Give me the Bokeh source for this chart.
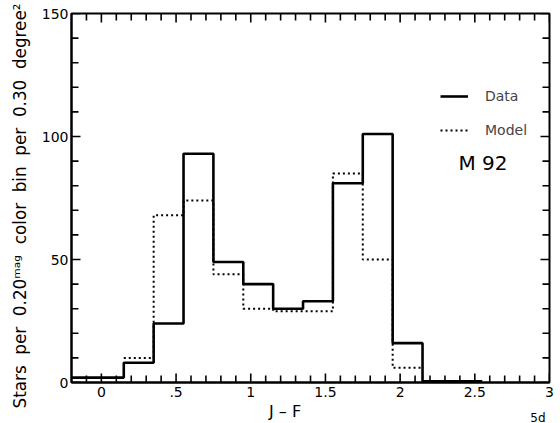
import math
import numpy as np
from bokeh.plotting import figure
from bokeh.models import (Range1d, FixedTicker, LinearAxis, Legend,
                          LegendItem, Label, Title)
from bokeh.embed import file_html
from bokeh.resources import INLINE

# ---- data ----
bin_edges = [-0.25, -0.05, 0.15, 0.35, 0.55, 0.75, 0.95, 1.15, 1.35, 1.55,
             1.75, 1.95, 2.15, 2.35, 2.55]
data_counts = [2, 2, 8, 24, 93, 49, 40, 30, 33, 81, 101, 16, 0.5, 0.5]
model_edges = [0.15, 0.35, 0.55, 0.75, 0.95, 1.15, 1.35, 1.55, 1.75, 1.95, 2.15]
model_counts = [10, 68, 74, 44, 30, 29, 29, 85, 50, 6]

x_major_ticks = [0, 0.5, 1, 1.5, 2, 2.5, 3]
x_tick_labels = {0: "0", 0.5: ".5", 1: "1", 1.5: "1.5", 2: "2", 2.5: "2.5", 3: "3"}
y_major_ticks = [0, 50, 100, 150]
y_tick_labels = {0: "0", 50: "50", 100: "100", 150: "150"}

X0, X1 = -0.2, 3.0
Y0, Y1 = 0, 150
x_minor_ticks = [t for t in np.round(np.arange(-0.1, X1 + 1e-9, 0.1), 2)
                 if t not in x_major_ticks]
y_minor_ticks = [t for t in range(10, Y1, 10) if t not in y_major_ticks]

FONT = "DejaVu Sans"
NB = "\u00a0"

p = figure(width=560, height=423, output_backend="svg", toolbar_location=None,
           x_range=Range1d(X0, X1), y_range=Range1d(Y0, Y1),
           x_axis_location=None, y_axis_location=None,
           min_border_left=71, min_border_right=11, min_border_top=13,
           min_border_bottom=40)
p.grid.visible = False
p.outline_line_color = "black"
p.outline_line_width = 2
p.background_fill_color = "white"
p.border_fill_color = "white"


def label_axis(ticks, labels, standoff):
    ax = LinearAxis(ticker=FixedTicker(ticks=ticks))
    ax.major_label_overrides = labels
    ax.axis_line_color = "black"
    ax.axis_line_width = 2
    ax.major_tick_in = 0
    ax.major_tick_out = 0
    ax.minor_tick_in = 0
    ax.minor_tick_out = 0
    ax.major_tick_line_color = None
    ax.minor_tick_line_color = None
    ax.major_label_text_font = FONT
    ax.major_label_text_font_size = "14px"
    ax.major_label_text_color = "black"
    ax.major_label_standoff = standoff
    return ax


xb = label_axis(x_major_ticks, x_tick_labels, 4)
xb.axis_label = "J \u2013 F" + NB * 10
xb.axis_label_text_font = FONT
xb.axis_label_text_font_size = "16px"
xb.axis_label_text_font_style = "normal"
xb.axis_label_text_color = "black"
xb.axis_label_standoff = 2
p.add_layout(xb, "below")

yl = label_axis(y_major_ticks, y_tick_labels, 3)
p.add_layout(yl, "left")

# y-axis title, placed outside the tick labels
ytitle = Title(text="Stars" + NB * 2 + "per" + NB * 2 + "0.20\u1d50\u1d43\u1d4d" + NB * 2 +
                    "color" + NB * 2 + "bin" + NB * 2 + "per" + NB * 2 + "0.30" +
                    NB * 2 + "degree\u00b2",
               text_font=FONT, text_font_size="16.8px", text_font_style="normal",
               text_color="black", align="left", offset=-26,
               vertical_align="middle", standoff=15.5)
p.add_layout(ytitle, "left")

# small figure tag at the lower right (as in the source scan)
tag = Title(text="5d", text_font=FONT, text_font_size="12px",
            text_font_style="normal", text_color="black",
            align="right", offset=4, vertical_align="top", standoff=-26)
p.add_layout(tag, "below")

# inward tick marks on all four sides
MAJ, MIN = 9, 7
tick_kw = dict(length_units="screen", line_color="black", line_width=1.6)
for ticks, ln in ((x_major_ticks, MAJ), (x_minor_ticks, MIN)):
    p.ray(x=ticks, y=[Y0] * len(ticks), length=ln, angle=math.pi / 2, **tick_kw)
    p.ray(x=ticks, y=[Y1] * len(ticks), length=ln, angle=-math.pi / 2, **tick_kw)
for ticks, ln in ((y_major_ticks, MAJ), (y_minor_ticks, MIN)):
    p.ray(x=[X0] * len(ticks), y=ticks, length=ln, angle=0, **tick_kw)
    p.ray(x=[X1] * len(ticks), y=ticks, length=ln, angle=math.pi, **tick_kw)

r_data = p.step(x=bin_edges, y=data_counts + [data_counts[-1]], mode="after",
                line_color="black", line_width=2.6)
r_model = p.step(x=model_edges, y=model_counts + [model_counts[-1]], mode="after",
                 line_color="black", line_width=2, line_dash="2 3")

legend = Legend(items=[LegendItem(label="Data", renderers=[r_data]),
                       LegendItem(label="Model", renderers=[r_model])],
                location=(369, 242), orientation="vertical",
                border_line_color=None, background_fill_alpha=0,
                padding=0, margin=0, spacing=14,
                glyph_width=28, glyph_height=20, label_height=20,
                label_standoff=17, label_text_font=FONT,
                label_text_font_size="14px")
p.add_layout(legend)

p.add_layout(Label(x=387, y=220, x_units="screen", y_units="screen",
                   text="M 92", text_font=FONT, text_font_size="20px",
                   text_baseline="middle", text_color="black"))

open("out.html", "w").write(file_html(p, INLINE))
